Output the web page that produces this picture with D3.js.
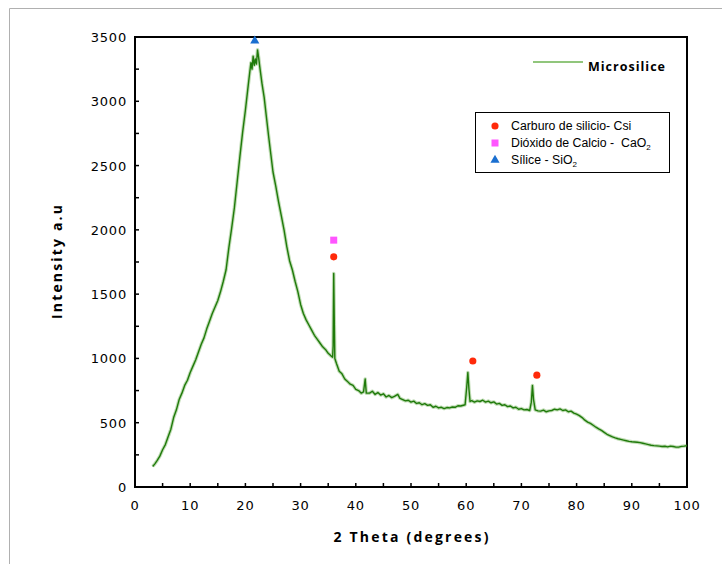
<!DOCTYPE html>
<html><head><meta charset="utf-8">
<script src="https://cdn.jsdelivr.net/npm/d3@7"></script>
<style>body{margin:0;background:#fff}svg{display:block}</style>
</head><body>
<svg id="c" width="722" height="564"></svg>
<script>
// ---- data ----
const theta = [3.2,3.6,4.0,4.5,5.0,5.5,6.0,6.5,7.0,7.5,8.0,8.5,9.0,9.5,10.0,10.5,11.0,11.5,12.0,12.5,13.0,13.5,14.0,14.5,15.0,15.5,16.0,16.5,17.0,17.5,18.0,18.5,19.0,19.5,20.0,20.5,20.8,21.0,21.2,21.4,21.6,21.8,22.0,22.2,22.4,22.6,23.0,23.4,23.8,24.2,24.6,25.0,25.5,26.0,26.5,27.0,27.5,28.0,28.5,29.0,29.5,30.0,30.5,31.0,31.5,32.0,32.5,33.0,33.5,34.0,34.5,35.0,35.5,35.8,35.9,36.0,36.1,36.2,36.5,37.0,37.5,38.0,38.5,39.0,39.5,40.0,40.5,41.0,41.4,41.7,41.9,42.5,43.0,43.5,44.0,44.5,45.0,45.5,46.0,46.5,47.0,47.6,48.0,48.5,49.0,49.5,50.0,50.5,51.0,51.5,52.0,52.5,53.0,53.5,54.0,54.5,55.0,55.5,56.0,56.5,57.0,57.5,58.0,58.5,59.0,59.8,60.1,60.3,60.5,60.7,61.0,61.5,62.0,62.5,63.0,63.5,64.0,64.5,65.0,65.5,66.0,66.5,67.0,67.5,68.0,68.5,69.0,69.5,70.0,70.5,71.0,71.5,71.8,72.0,72.2,72.5,73.0,73.5,74.0,74.5,75.0,75.5,76.0,76.5,77.0,77.5,78.0,78.5,79.0,79.5,80.0,80.5,81.0,81.5,82.0,82.5,83.0,83.5,84.0,84.5,85.0,85.5,86.0,86.5,87.0,87.5,88.0,88.5,89.0,89.5,90.0,90.5,91.0,91.5,92.0,92.5,93.0,93.5,94.0,94.5,95.0,95.5,96.0,96.5,97.0,97.5,98.0,98.5,99.0,99.5,100];
const intensity = [160,180,205,240,290,330,390,450,540,600,680,730,790,830,890,940,990,1050,1110,1160,1230,1290,1350,1400,1450,1520,1600,1690,1860,2010,2170,2370,2570,2760,2930,3120,3230,3300,3250,3350,3280,3330,3290,3400,3340,3270,3140,3030,2880,2730,2590,2450,2340,2220,2110,2000,1870,1760,1690,1600,1520,1420,1350,1300,1260,1220,1180,1150,1120,1090,1070,1040,1020,1010,1100,1660,1300,1000,960,900,880,840,820,800,790,760,750,730,740,840,730,730,745,720,735,715,725,700,712,695,705,720,690,680,670,675,660,668,650,655,640,648,635,640,620,628,615,620,610,618,615,622,620,632,630,640,780,890,760,665,672,660,670,665,675,660,668,655,662,645,650,635,640,625,630,615,620,605,610,600,603,595,660,790,680,600,592,590,598,585,592,595,605,600,607,595,600,585,590,575,566,555,540,520,505,495,480,465,452,440,425,410,400,390,382,375,370,365,360,355,352,350,348,345,340,335,330,325,322,320,318,315,317,312,318,315,310,310,316,318,322,320,318,315];
const markCSi = [[36.0,1790],[61.2,980],[72.8,870]];
const markCaO = [[36.0,1920]];
const markSiO = [[21.7,3470]];
const xTicks = d3.range(0,101,10);
const yTicks = d3.range(0,3501,500);

// ---- layout ----
const svg = d3.select("#c");
const L=135, R=687, T=37, B=487;
const x = d3.scaleLinear().domain([0,100]).range([L,R]);
const y = d3.scaleLinear().domain([0,3500]).range([B,T]);

// outer frame (partial)
svg.append("path").attr("d","M9.5,564 V8.5 H722").attr("fill","none").attr("stroke","#b0b0b0").attr("stroke-width",1);

// plot box
svg.append("rect").attr("x",L).attr("y",T).attr("width",R-L).attr("height",B-T)
  .attr("fill","none").attr("stroke","#000").attr("stroke-width",2);

// ticks (inward)
const g = svg.append("g");
d3.range(0,101,5).forEach(v=>{
  g.append("line").attr("x1",x(v)).attr("x2",x(v)).attr("y1",B).attr("y2",B-4).attr("stroke","#000").attr("stroke-width",1.5);
});
d3.range(0,3501,250).forEach(v=>{
  g.append("line").attr("x1",L).attr("x2",L+4).attr("y1",y(v)).attr("y2",y(v)).attr("stroke","#000").attr("stroke-width",1.5);
});
const tf = "'DejaVu Sans', Verdana, sans-serif";
xTicks.forEach(v=>{
  g.append("text").attr("x",x(v)).attr("y",510).attr("text-anchor","middle")
   .attr("font-family",tf).attr("font-size",13).attr("letter-spacing",0.8).attr("fill","#000").text(v);
});
yTicks.forEach(v=>{
  g.append("text").attr("x",127).attr("y",y(v)+5).attr("text-anchor","end")
   .attr("font-family",tf).attr("font-size",13).attr("letter-spacing",0.8).attr("fill","#000").text(v);
});

// axis titles
svg.append("text").attr("x",411).attr("y",542).attr("text-anchor","middle")
  .attr("font-family","'Open Sans', sans-serif").attr("font-weight","bold").attr("font-size",14)
  .attr("textLength",155).attr("lengthAdjust","spacing").text("2 Theta (degrees)");
svg.append("text").attr("transform","translate(62,262) rotate(-90)").attr("text-anchor","middle")
  .attr("font-family","'Open Sans', sans-serif").attr("font-weight","bold").attr("font-size",14)
  .attr("textLength",114).attr("lengthAdjust","spacing").text("Intensity a.u");

// data line
const pts = theta.map((t,i)=>[t,intensity[i]]);
const line = d3.line().x(d=>x(d[0])).y(d=>y(d[1]));
svg.append("path").datum(pts).attr("d",line).attr("fill","none")
  .attr("stroke","#4a9a2a").attr("stroke-opacity",0.35).attr("stroke-width",3.5).attr("stroke-linejoin","round");
svg.append("path").datum(pts).attr("d",line).attr("fill","none")
  .attr("stroke","#1f7a0a").attr("stroke-width",1.4).attr("stroke-linejoin","round");

// markers
const hex = d3.symbol().type(d3.symbolCircle).size(40);
markCSi.forEach(d=>svg.append("path").attr("d",hex()).attr("transform",`translate(${x(d[0])},${y(d[1])})`).attr("fill","#ff2a0a"));
markCaO.forEach(d=>svg.append("rect").attr("x",x(d[0])-3.5).attr("y",y(d[1])-3.5).attr("width",7).attr("height",7).attr("fill","#ff55ff"));
const tri = d3.symbol().type(d3.symbolTriangle).size(36);
markSiO.forEach(d=>svg.append("path").attr("d",tri()).attr("transform",`translate(${x(d[0])},${y(d[1])})`).attr("fill","#1a6fd0"));

// Microsilice legend
svg.append("line").attr("x1",533).attr("x2",583).attr("y1",62).attr("y2",62).attr("stroke","#6db350").attr("stroke-width",1.3);
svg.append("text").attr("x",588).attr("y",71).attr("font-family","'Open Sans', sans-serif")
  .attr("font-weight","bold").attr("font-size",12.5).attr("textLength",77).attr("lengthAdjust","spacing").text("Microsilice");

// phase legend
const lg = svg.append("g");
lg.append("rect").attr("x",475.5).attr("y",112.5).attr("width",194).attr("height",60).attr("fill","#fff").attr("stroke","#000").attr("stroke-width",1);
const lf = "'Liberation Sans', Arial, sans-serif";
lg.append("path").attr("d",hex()).attr("transform","translate(495,126)").attr("fill","#ff2a0a");
lg.append("rect").attr("x",491.5).attr("y",139.5).attr("width",7).attr("height",7).attr("fill","#ff55ff");
lg.append("path").attr("d",tri()).attr("transform","translate(495,160)").attr("fill","#1a6fd0");
lg.append("text").attr("x",511).attr("y",130).attr("font-family",lf).attr("font-size",12.3).text("Carburo de silicio- Csi");
const t2 = lg.append("text").attr("x",511).attr("y",147).attr("font-family",lf).attr("font-size",12.3);
t2.append("tspan").text("Dióxido de Calcio -\u00a0\u00a0CaO");
t2.append("tspan").attr("font-size",8).attr("dy",3).text("2");
const t3 = lg.append("text").attr("x",511).attr("y",164).attr("font-family",lf).attr("font-size",12.3);
t3.append("tspan").text("Sílice - SiO");
t3.append("tspan").attr("font-size",8).attr("dy",3).text("2");
</script>
</body></html>
